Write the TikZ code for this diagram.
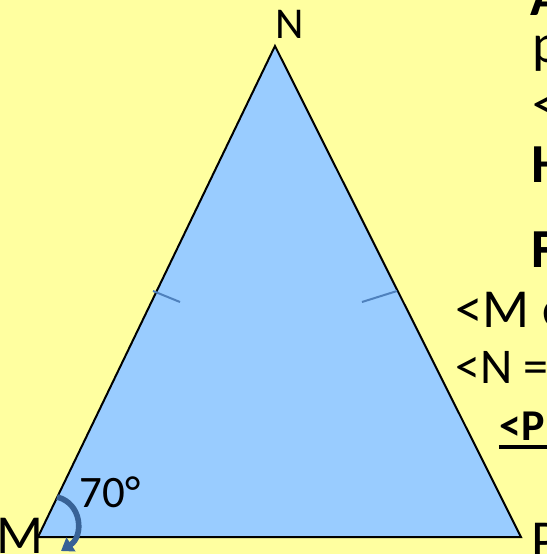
\documentclass[tikz,border=0pt]{standalone}
\usepackage{fontspec}
\setmainfont{Carlito}
\usepackage{xcolor}
\usetikzlibrary{arrows.meta}

\definecolor{slide}{RGB}{255,255,160}
\definecolor{tri}{RGB}{153,204,255}
\definecolor{tickblue}{RGB}{79,129,189}
\definecolor{turnblue}{RGB}{56,98,150}

\begin{document}
\begin{tikzpicture}[
    x=0.5pt, y=-0.5pt,
    vertex/.style={anchor=base west, inner sep=0pt, font=\fontsize{27.5}{33}\selectfont},
    sidetext/.style={anchor=base west, inner sep=0pt, font=\fontsize{27.5}{33}\selectfont},
    smalltext/.style={anchor=base west, inner sep=0pt, font=\fontsize{22}{26}\selectfont},
    hatch/.style={draw=tickblue, line width=1pt},
    turn/.style={draw=turnblue, line width=2.8pt, -{Triangle[length=6pt, width=8pt]}}
]

    % Fond
    \fill [slide] (0,0) rectangle (547,554);
    \useasboundingbox (0,0) rectangle (547,554);

    % Sommets du triangle
    \coordinate (M) at (38,537);
    \coordinate (N) at (275,46);
    \coordinate (P) at (521,537);
    \draw [fill=tri, line width=1pt] (M) -- (N) -- (P) -- cycle;

    % Codage des côtés égaux
    \coordinate (t1a) at (153,291);
    \coordinate (t1b) at (180,302);
    \coordinate (t2a) at (397,291);
    \coordinate (t2b) at (362,302);
    \draw [hatch] (t1a) -- (t1b);
    \draw [hatch] (t2a) -- (t2b);

    % Noms des sommets
    \node (lblN) [smalltext] at (275,38) {N};
    \node (lblM) [vertex] at (-4,553) {M};
    \node (lblP) [vertex] at (531,558) {P};

    % Angle en M
    \coordinate (a1) at (57,497);
    \coordinate (a2) at (61,551);
    \draw [turn] (a1) .. controls (82,503) and (84,536) .. (a2);
    \node (ang) [vertex, font=\fontsize{22.5}{27}\selectfont] at (79,507) {70°};

    % Texte de droite (coupé par le bord)
    \node (r1) [sidetext, font=\fontsize{27.5}{33}\bfseries] at (530,15) {A};
    \node (r2) [sidetext] at (532,62) {p};
    \node (r3) [sidetext] at (532,122) {<};
    \node (r4) [sidetext, font=\fontsize{27.5}{33}\bfseries] at (531,182) {H};
    \node (r5) [sidetext, font=\fontsize{27.5}{33}\bfseries] at (531,267) {F};
    \node (r6) [sidetext] at (455,327) {<M \textbf{e}};
    \node (r7) [smalltext, font=\fontsize{25}{30}\selectfont] at (455,383) {<N =};
    \node (r8) [smalltext, font=\fontsize{22}{26}\bfseries] at (499,440) {<P};
    \draw [line width=2pt] ([yshift=-3.5pt]r8.base west) -- ([yshift=-3.5pt, xshift=10pt]r8.base east);

\end{tikzpicture}
\end{document}
